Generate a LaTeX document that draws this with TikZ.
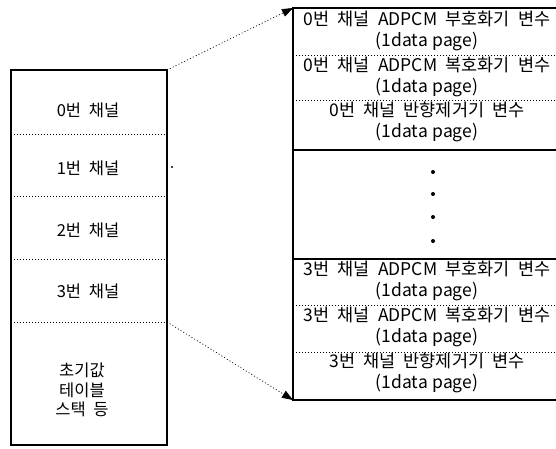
\documentclass[tikz,border=0pt]{standalone}
\usepackage{fontspec}
\setmainfont{Noto Sans CJK KR}[WordSpace=2.1]
\usetikzlibrary{arrows.meta}
\newcommand{\dpage}{(1data\hspace{4.5pt}page)}
\begin{document}
\begin{tikzpicture}[x=1pt,y=-1pt,
  frame/.style={draw,line width=1.2pt,inner sep=0pt,outer sep=0pt},
  sep/.style={line width=0.7pt,dash pattern=on 1pt off 2pt},
  solidsep/.style={line width=1.1pt},
  lbl/.style={font=\fontsize{16.5}{15}\selectfont,align=center,inner sep=0pt},
  rlbl/.style={font=\fontsize{17.5}{21}\selectfont,align=center,inner sep=0pt},
  link/.style={line width=0.7pt,dash pattern=on 1pt off 2.2pt,-{Triangle[length=11pt,width=8pt]}},
  dotmark/.style={circle,fill,inner sep=0pt,minimum size=4pt}]
\useasboundingbox (0,0) rectangle (556,448);
\clip (0,0) rectangle (556,448);
\fill[white] (0,0) rectangle (556,448);
% left memory map
\node[frame,minimum width=156pt,minimum height=375pt,anchor=north west] (mem) at (11,70) {};
\coordinate (l1) at (11,134); \coordinate (r1) at (167,134);
\coordinate (l2) at (11,196); \coordinate (r2) at (167,196);
\coordinate (l3) at (11,259); \coordinate (r3) at (167,259);
\coordinate (l4) at (11,322); \coordinate (r4) at (167,322);
\draw[sep] (l1) -- (r1);
\draw[sep] (l2) -- (r2);
\draw[sep] (l3) -- (r3);
\draw[sep] (l4) -- (r4);
\node[lbl] (c0) at (88,110) {0번 채널};
\node[lbl] (c1) at (88,168) {1번 채널};
\node[lbl] (c2) at (88,230) {2번 채널};
\node[lbl] (c3) at (88,291) {3번 채널};
\node[lbl,font=\fontsize{16.5}{19.5}\selectfont] (misc) at (82,390) {초기값\\테이블\\스택 등};
\node[dotmark,minimum size=2.4pt] (stray) at (172,167) {};
% right page map
\node[frame,minimum width=272pt,minimum height=392pt,anchor=north west] (pages) at (293,8) {};
\coordinate (a1) at (293,55);  \coordinate (b1) at (565,55);
\coordinate (a2) at (293,100); \coordinate (b2) at (565,100);
\coordinate (a3) at (293,150); \coordinate (b3) at (565,150);
\coordinate (a4) at (293,259); \coordinate (b4) at (565,259);
\coordinate (a5) at (293,305); \coordinate (b5) at (565,305);
\coordinate (a6) at (293,352); \coordinate (b6) at (565,352);
\draw[sep] (a1) -- (b1);
\draw[sep] (a2) -- (b2);
\draw[solidsep] (a3) -- (b3);
\draw[solidsep] (a4) -- (b4);
\draw[sep] (a5) -- (b5);
\draw[sep] (a6) -- (b6);
\node[rlbl] (p1) at (427,31) {0번 채널 ADPCM 부호화기 변수\\\dpage};
\node[rlbl] (p2) at (427,77) {0번 채널 ADPCM 복호화기 변수\\\dpage};
\node[rlbl] (p3) at (427,122) {0번 채널 반향제거기 변수\\\dpage};
\node[dotmark] (d1) at (433,172) {};
\node[dotmark] (d2) at (433,194) {};
\node[dotmark] (d3) at (433,217) {};
\node[dotmark] (d4) at (433,241) {};
\node[rlbl] (q1) at (427,281) {3번 채널 ADPCM 부호화기 변수\\\dpage};
\node[rlbl] (q2) at (427,327) {3번 채널 ADPCM 복호화기 변수\\\dpage};
\node[rlbl] (q3) at (427,373) {3번 채널 반향제거기 변수\\\dpage};
% links
\draw[link] (mem.north east) -- (pages.north west);
\draw[link] (r4) -- (pages.south west);
\end{tikzpicture}
\end{document}
